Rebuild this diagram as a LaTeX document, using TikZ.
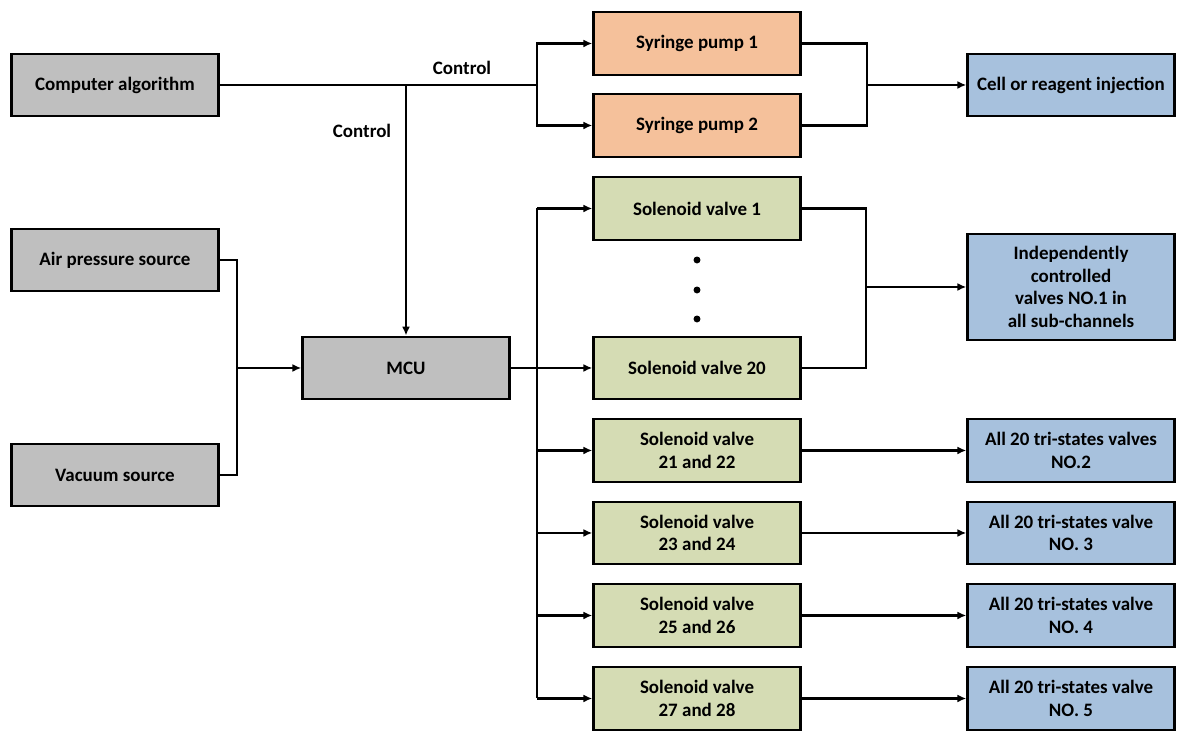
\documentclass[tikz,border=0pt]{standalone}
\usepackage{fontspec}
\setmainfont{Carlito}
\usetikzlibrary{positioning, arrows.meta, calc}
\definecolor{boxGray}{HTML}{BFBFBF}
\definecolor{pumpOrange}{HTML}{F5C19B}
\definecolor{valveGreen}{HTML}{D5DCB4}
\definecolor{outBlue}{HTML}{A7C1DD}

\begin{document}
\begin{tikzpicture}[
    unit/.style={draw=black, line width=1.4pt, rectangle, align=center, font=\fontsize{10.8}{13}\selectfont\bfseries, minimum width=4.14cm, minimum height=1.25cm, inner sep=2pt},
    src/.style={unit, fill=boxGray},
    pump/.style={unit, fill=pumpOrange},
    valve/.style={unit, fill=valveGreen},
    result/.style={unit, fill=outBlue},
    wire/.style={line width=1.2pt},
    arr/.style={wire, -{Latex[length=5pt, width=4.5pt]}},
    lbl/.style={font=\fontsize{10.8}{13}\selectfont\bfseries},
]
\useasboundingbox (0,0) rectangle (23.54,14.62);
% sources and controller
\node[src] (comp) at (2.30, 12.92) {Computer algorithm};
\node[src] (air) at (2.30, 9.42) {Air pressure source};
\node[src] (vac) at (2.30, 5.12) {Vacuum source};
\node[src] (mcu) at (8.12, 7.26) {MCU};
% pumps
\node[pump] (pump1) at (13.94, 13.75) {Syringe pump 1};
\node[pump] (pump2) at (13.94, 12.11) {Syringe pump 2};
\node[result] (cell) at (21.42, 12.92) {Cell or reagent injection};
% valves
\node[valve] (sv1) at (13.94, 10.45) {Solenoid valve 1};
\node[circle, fill=black, inner sep=1.4pt] (dot1) at (13.94, 9.42) {};
\node[circle, fill=black, inner sep=1.4pt] (dot2) at (13.94, 8.82) {};
\node[circle, fill=black, inner sep=1.4pt] (dot3) at (13.94, 8.24) {};
\node[valve] (sv20) at (13.94, 7.26) {Solenoid valve 20};
\node[valve] (sv21) at (13.94, 5.61) {Solenoid valve\\21 and 22};
\node[valve] (sv23) at (13.94, 3.96) {Solenoid valve\\23 and 24};
\node[valve] (sv25) at (13.94, 2.31) {Solenoid valve\\25 and 26};
\node[valve] (sv27) at (13.94, 0.65) {Solenoid valve\\27 and 28};
% outputs
\node[result, minimum height=2.12cm] (indep) at (21.42, 8.88) {Independently\\controlled\\valves NO.1 in\\all sub-channels};
\node[result] (no2) at (21.42, 5.61) {All 20 tri-states valves\\NO.2};
\node[result] (no3) at (21.42, 3.96) {All 20 tri-states valve\\NO. 3};
\node[result] (no4) at (21.42, 2.31) {All 20 tri-states valve\\NO. 4};
\node[result] (no5) at (21.42, 0.65) {All 20 tri-states valve\\NO. 5};
% junctions
\coordinate (jtop) at (10.74, 12.92);
\coordinate (jleft) at (4.74, 7.26);
\coordinate (jbus) at (10.74, 7.26);
\coordinate (jpump) at (17.34, 12.92);
\coordinate (jsv) at (17.32, 8.88);
% control lines
\draw[wire] (comp.east) -- (jtop);
\draw[arr] (jtop) |- (pump1.west);
\draw[arr] (jtop) |- (pump2.west);
\draw[arr] (mcu.north |- comp.east) -- (mcu.north);
\node[lbl] (ctrl1) at (9.24, 13.26) {Control};
\node[lbl] (ctrl2) at (7.24, 12.00) {Control};
% sources to mcu
\draw[wire] (air.east) -| (jleft) |- (vac.east);
\draw[arr] (jleft) -- (mcu.west);
% mcu to valves
\draw[arr] (mcu.east) -- (sv20.west);
\draw[wire] (jbus |- sv1.west) -- (jbus |- sv27.west);
\draw[arr] (jbus |- sv1.west) -- (sv1.west);
\draw[arr] (jbus |- sv21.west) -- (sv21.west);
\draw[arr] (jbus |- sv23.west) -- (sv23.west);
\draw[arr] (jbus |- sv25.west) -- (sv25.west);
\draw[arr] (jbus |- sv27.west) -- (sv27.west);
% outputs
\draw[wire] (pump1.east) -| (jpump) |- (pump2.east);
\draw[arr] (jpump) -- (cell.west);
\draw[wire] (sv1.east) -| (jsv) |- (sv20.east);
\draw[arr] (jsv) -- (indep.west);
\draw[arr] (sv21.east) -- (no2.west);
\draw[arr] (sv23.east) -- (no3.west);
\draw[arr] (sv25.east) -- (no4.west);
\draw[arr] (sv27.east) -- (no5.west);
\end{tikzpicture}
\end{document}
